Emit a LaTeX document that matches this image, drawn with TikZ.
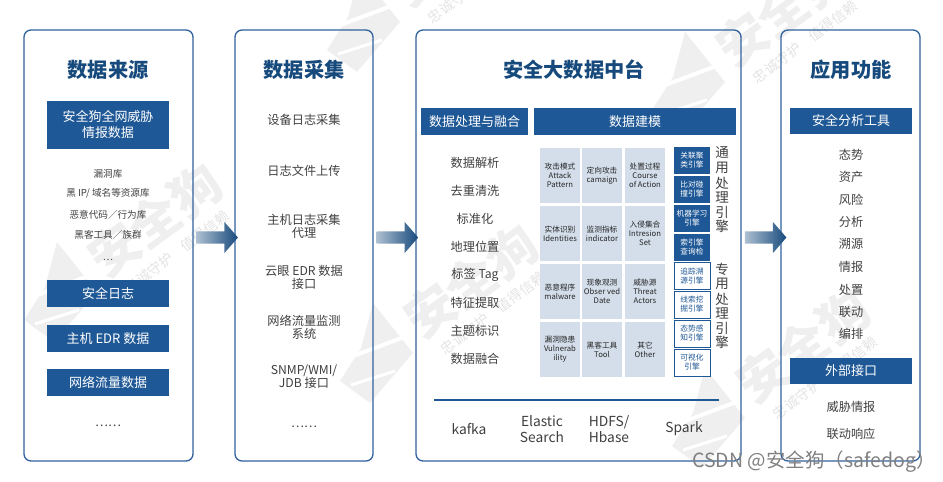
\documentclass[tikz,border=0pt]{standalone}
\usepackage{fontspec}
\setmainfont{Noto Sans CJK SC}
\usepackage{xcolor}
\definecolor{sdblue}{HTML}{1F5896}
\definecolor{sdnavy}{HTML}{174A7C}
\definecolor{sdframe}{HTML}{2F619E}
\definecolor{sdcell}{HTML}{D3DEEA}
\definecolor{sdink}{HTML}{3F3F3F}
\definecolor{sdmark}{HTML}{EFEFEF}
\usetikzlibrary{positioning,shapes.arrows}
\newcommand{\sdsize}[2]{\fontsize{#1}{#2}\selectfont}
\tikzset{
  sdpanel/.style ={rectangle, rounded corners=7pt, draw=sdframe, line width=1.3pt,
                   minimum height=431pt, inner sep=0pt},
  sdtitle/.style ={font=\sdsize{20.2}{24}\bfseries, text=sdnavy},
  sdbar/.style   ={rectangle, fill=sdblue, text=white, minimum height=27pt, inner sep=0pt,
                   align=center, font=\sdsize{13}{16}},
  sdsrc/.style   ={sdbar, minimum width=122pt},
  sditem/.style  ={font=\sdsize{12.2}{13}, text=sdink, align=center, yshift=-1pt},
  sdsmall/.style ={font=\sdsize{9.6}{11}, text=sdink, align=center, yshift=-0.5pt},
  sdcellbox/.style={rectangle, fill=sdcell, text=black!85, minimum height=55pt, inner sep=0pt,
                   align=center, font=\sdsize{7.7}{9}},
  sdhot/.style   ={rectangle, fill=sdblue, text=white, minimum width=36pt, minimum height=27pt,
                   inner sep=0pt, align=center, font=\sdsize{7.7}{9}},
  sdcool/.style  ={sdhot, fill=white, draw=sdblue, line width=0.9pt, text=sdblue},
  sdside/.style  ={font=\sdsize{13.5}{14}, text=sdink},
  sdstack/.style ={font=\sdsize{13.8}{16}, text=sdink, align=center},
  sdflow/.style  ={single arrow, draw=none, minimum height=41.5pt,
                   single arrow head extend=9.5pt, single arrow tip angle=98,
                   inner xsep=0pt, inner ysep=6pt,
                   left color=sdnavy!35, middle color=sdnavy!75, right color=sdnavy},
  sdmarktxt/.style={font=\sdsize{50}{50}\bfseries, text=sdmark},
  sdmarksub/.style={font=\sdsize{14}{14}, text=sdmark!95!black},
}
% one faint group: its logo, name and motto, placed by the top of the logo
\newcommand{\sdgroup}[2]{%
  \fill[sdmark] (#1+0,#2+0) -- (#1+40,#2+50) -- (#1-3,#2+100) -- (#1-33,#2+78)
    -- (#1-12,#2+45) -- cycle;
  \draw[white, line width=4pt] (#1-33,#2+58) -- (#1+42,#2+30);
  \draw[white, line width=3pt] (#1-22,#2+82) -- (#1+22,#2+68);
  \node[sdmarktxt, rotate=36] at (#1+98,#2-22) {安全狗};
  \node[sdmarksub, rotate=37] at (#1+120,#2+10) {忠诚守护\quad 值得信赖};
}
\begin{document}
\begin{tikzpicture}[x=1pt,y=-1pt]
  \useasboundingbox (0,0) rectangle (943,482);
  % faint marks behind everything
  \sdgroup{57}{242}
  \sdgroup{373}{303}
  \sdgroup{705}{368}
  \sdgroup{685}{32}
  \sdgroup{360}{-28}
  % panels
  \node[sdpanel, minimum width=169pt] (srcpanel) at (108.5,245.5) {};
  \node[sdpanel, minimum width=138pt] (colpanel) at (304,245.5) {};
  \node[sdpanel, minimum width=325pt] (hubpanel) at (578.5,245.5) {};
  \node[sdpanel, minimum width=139pt] (apppanel) at (850.5,245.5) {};
  \node[sdflow] (flowa) at (214.5,237.5) {};
  \node[sdflow] (flowb) at (394.7,237.5) {};
  \node[sdflow] (flowc) at (763,237.5) {};
  \node[sdtitle] (srctitle) at (108,70) {数据来源};
  \node[sdtitle] (coltitle) at (304,70) {数据采集};
  \node[sdtitle] (hubtitle) at (574,70) {安全大数据中台};
  \node[sdtitle] (apptitle) at (851,70) {应用功能};
  % data sources
  \node[sdsrc, minimum height=48pt] (srcintel) at (108,125) {安全狗全网威胁\\情报数据};
  \foreach \y/\s [count=\i] in {173/漏洞库, 193/{黑 IP/ 域名等资源库}, 214/恶意代码／行为库, 234/黑客工具／族群, 259/…}{
    \node[sdsmall] (srclist\i) at (108,\y) {\s};}
  \node[sdsrc] (srclog) at (108,293.5) {安全日志};
  \node[sdsrc] (srcedr) at (108,338.5) {主机 EDR 数据};
  \node[sdsrc] (srcnet) at (108,382.5) {网络流量数据};
  \node[sditem] (srcmore) at (108,425) {……};
  % collection
  \foreach \y/\s [count=\i] in {119/设备日志采集, 170/日志文件上传, 225.5/{主机日志采集\\代理}, 276/{云眼 EDR 数据\\接口},
    326.5/{网络流量监测\\系统}, 376/{SNMP/WMI/\\JDB 接口}, 426/……}{
    \node[sditem] (colitem\i) at (304,\y) {\s};}
  % hub
  \node[sdbar, minimum width=107pt] (hubfuse) at (474.5,121.5) {数据处理与融合};
  \node[sdbar, minimum width=202pt] (hubmodel) at (635,121.5) {数据建模};
  \foreach \y/\s [count=\i] in {162/数据解析, 190/去重清洗, 218/标准化, 246/地理位置, 274/标签 Tag, 302/特征提取, 330/主题标识, 358/数据融合}{
    \node[sditem] (fuse\i) at (475,\y) {\s};}
  \foreach \x/\y/\s [count=\i] in {
    560/175.5/{攻击模式\\Attack\\Pattern}, 602/175.5/{定向攻击\\camaign}, 645/175.5/{处置过程\\Course\\of Action},
    560/233.5/{实体识别\\Identities}, 602/233.5/{监测指标\\indicator}, 645/233.5/{入侵集合\\Intresion\\Set},
    560/291.5/{恶意程序\\malware}, 602/291.5/{现象观测\\Obser ved\\Date}, 645/291.5/{威胁源\\Threat\\Actors},
    560/349.5/{漏洞隐患\\Vulnerab\\ility}, 602/349.5/{黑客工具\\Tool}, 645/349.5/{其它\\Other}}{
    \node[sdcellbox, minimum width=40pt] (cell\i) at (\x,\y) {\s};}
  \foreach \y/\s [count=\i] in {160.5/{关联聚\\类引擎}, 189.5/{比对碰\\撞引擎}, 218.5/{机器学习\\引擎}, 247.5/{索引擎\\查询检}}{
    \node[sdhot] (engine\i) at (692,\y) {\s};}
  \foreach \y/\s [count=\i] in {276/{追踪溯\\源引擎}, 304.5/{线索挖\\掘引擎}, 333.5/{态势感\\知引擎}, 362.5/{可视化\\引擎}}{
    \node[sdcool] (special\i) at (692,\y) {\s};}
  \foreach \y/\s [count=\i] in {153/通, 168/用, 183/处, 197/理, 212/引, 226/擎}{
    \node[sdside] (gen\i) at (722,\y) {\s};}
  \foreach \y/\s [count=\i] in {269/专, 284/用, 299/处, 313/理, 328/引, 342/擎}{
    \node[sdside] (spc\i) at (722,\y) {\s};}
  \coordinate (rulea) at (434,400);
  \coordinate (ruleb) at (719,400);
  \draw[sdblue, line width=1.6pt] (rulea) -- (ruleb);
  \foreach \x/\y/\s [count=\i] in {469/429/kafka, 542/429/{Elastic\\Search}, 609/429/{HDFS/\\Hbase}, 684/429/Spark}{
    \node[sdstack] (stack\i) at (\x,\y) {\s};}
  % applications
  \node[sdsrc, minimum height=26pt] (apptool) at (851,121) {安全分析工具};
  \foreach \y/\s [count=\i] in {154/态势, 176/资产, 199/风险, 221/分析, 243/溯源, 266/情报, 289/处置, 311/联动, 333/编排}{
    \node[sditem] (appitem\i) at (851,\y) {\s};}
  \node[sdsrc, minimum height=26pt] (appext) at (851,371) {外部接口};
  \node[sditem] (appthreat) at (851,406) {威胁情报};
  \node[sditem] (appresp) at (851,433) {联动响应};
  \node[font=\sdsize{19.5}{19.5}, text=black!50] (csdn) at (814,462) {CSDN @安全狗（safedog）};
\end{tikzpicture}
\end{document}
